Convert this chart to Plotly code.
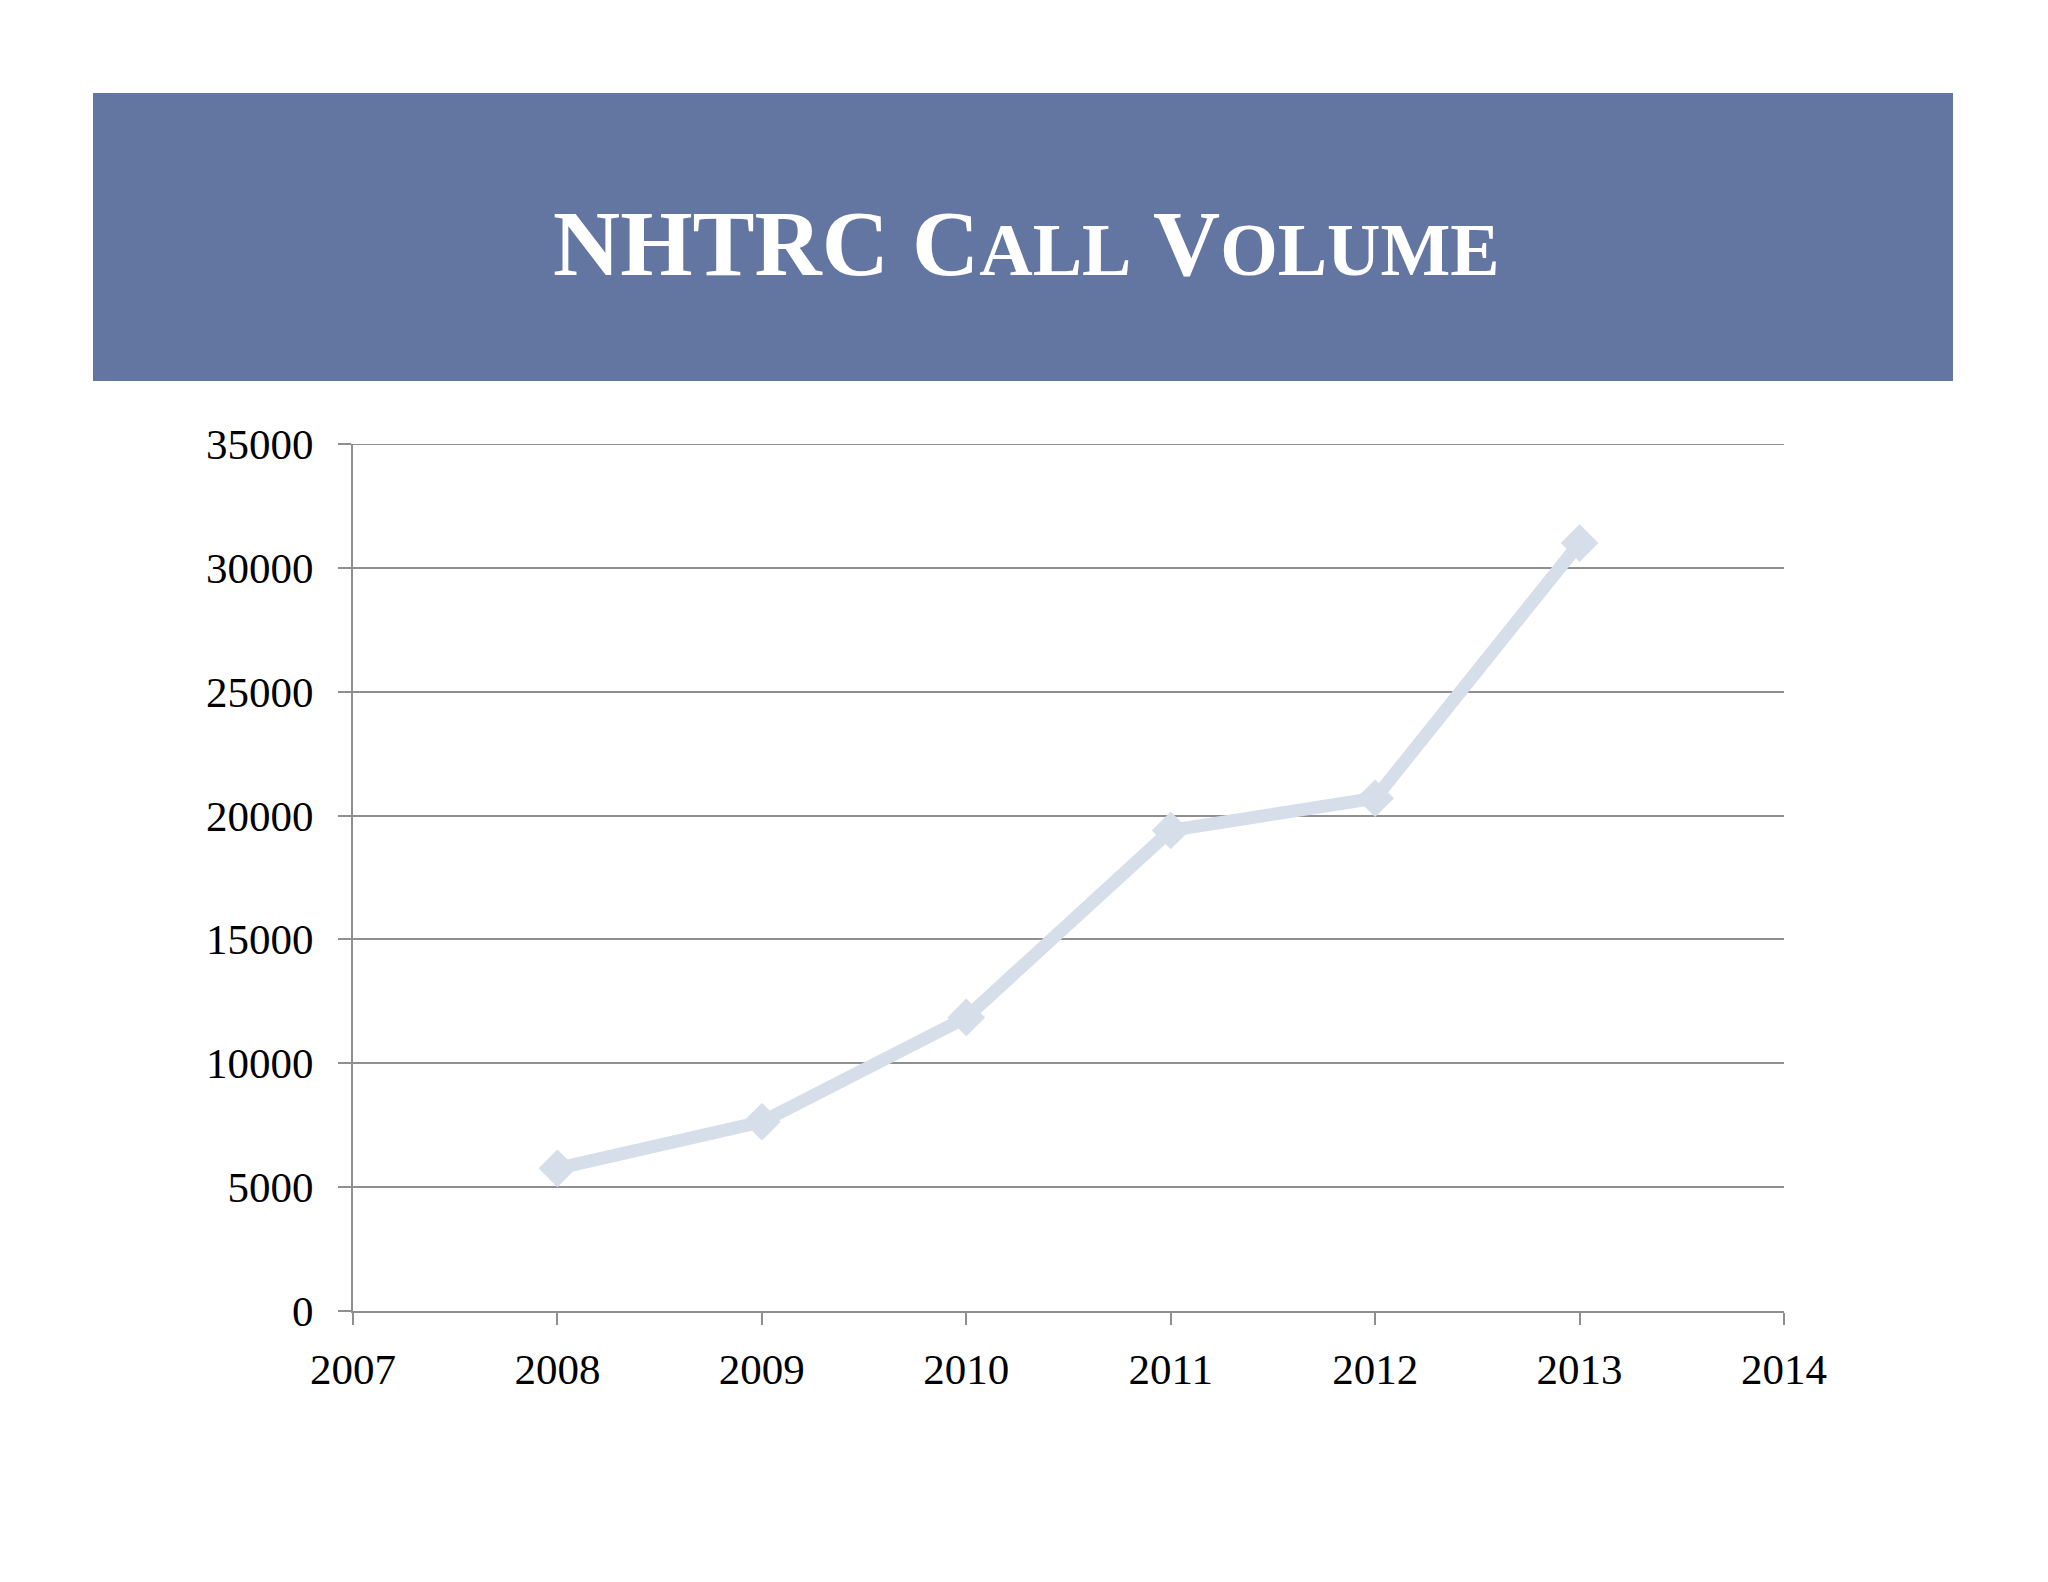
import plotly.graph_objects as go

years = [2008, 2009, 2010, 2011, 2012, 2013]
calls = [5760, 7640, 11850, 19400, 20700, 31000]

x_ticks = [2007, 2008, 2009, 2010, 2011, 2012, 2013, 2014]
y_ticks = [0, 5000, 10000, 15000, 20000, 25000, 30000, 35000]

W, H = 2048, 1582
OFF = 8  # page body margin
X0, X1, Y0, Y1 = 353, 1784, 444, 1311  # target plot area in page pixels
L, R, T, B = X0 - OFF, W - X1 + OFF, Y0 - OFF, H - Y1 + OFF
pw, ph = X1 - X0, Y1 - Y0

def px(xp):
    return (xp - X0) / pw

def py(yp):
    return (Y1 - yp) / ph

fig = go.Figure()
fig.add_trace(go.Scatter(
    x=years, y=calls, mode="lines+markers",
    line=dict(color="#d6deea", width=13),
    marker=dict(symbol="diamond", size=29, color="#d6deea"),
    showlegend=False, hoverinfo="x+y",
))

grid = "#8f8f8f"
fig.update_layout(
    width=W, height=H,
    margin=dict(l=L, r=R, t=T, b=B),
    paper_bgcolor="#ffffff", plot_bgcolor="#ffffff",
    font=dict(family="Liberation Serif", color="#000000", size=43),
    xaxis=dict(range=[2007, 2014], tickvals=x_ticks, ticktext=[str(v) for v in x_ticks],
               showgrid=False, zeroline=False, showline=True, linecolor=grid, linewidth=2,
               ticks="outside", ticklen=12, tickwidth=2, tickcolor=grid,
               ticklabelstandoff=7,
               tickfont=dict(family="Liberation Serif", size=43, color="#000000")),
    yaxis=dict(range=[0, 35000], tickvals=y_ticks, ticktext=[str(v) for v in y_ticks],
               showgrid=True, gridcolor=grid, gridwidth=2, zeroline=False,
               showline=True, linecolor=grid, linewidth=2,
               ticks="outside", ticklen=13, tickwidth=2, tickcolor=grid,
               ticklabelstandoff=16,
               tickfont=dict(family="Liberation Serif", size=43, color="#000000")),
    shapes=[
        dict(type="rect", xref="paper", yref="paper",
             x0=px(93), x1=px(1953), y0=py(381), y1=py(93),
             fillcolor="#6376a1", line=dict(width=0), layer="below"),
        dict(type="line", xref="paper", yref="y",
             x0=0, x1=1, y0=y_ticks[-1], y1=y_ticks[-1],
             line=dict(color=grid, width=2), layer="below"),
    ],
    annotations=[dict(
        xref="paper", yref="paper", x=px(1026), y=py(244),
        xanchor="center", yanchor="middle", showarrow=False,
        text=("<b>NHTRC C<span style='font-size:74px'>ALL</span> "
              "V<span style='font-size:74px'>OLUME</span></b>"),
        font=dict(family="Liberation Serif", size=93, color="#ffffff"),
    )],
)

fig.write_html("out.html")
